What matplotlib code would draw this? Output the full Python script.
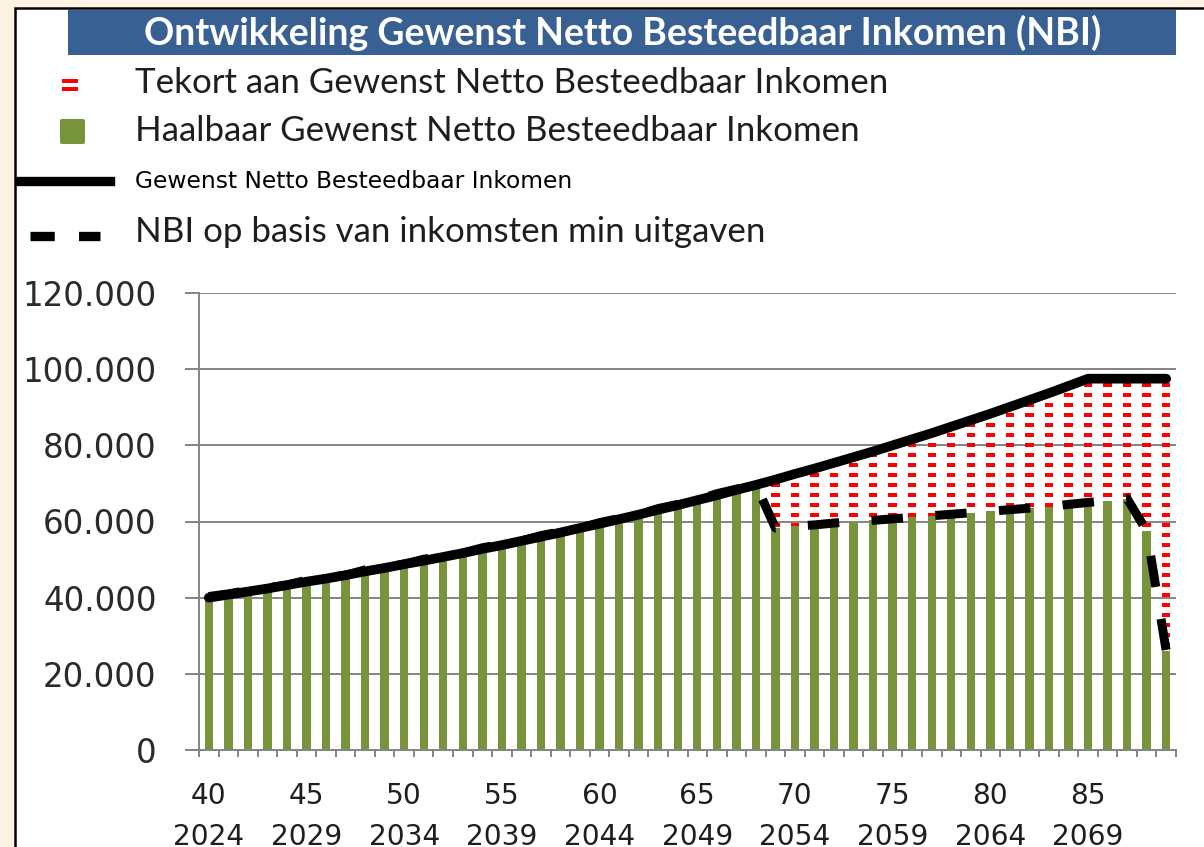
import numpy as np
import matplotlib.pyplot as plt
from matplotlib.patches import Rectangle, FancyBboxPatch
from matplotlib.lines import Line2D

# leeftijd en jaar per kolom
ages = list(range(40, 90))
years = list(range(2024, 2074))

# gewenst netto besteedbaar inkomen (zwarte lijn)
gewenst = [40000, 40800, 41600, 42400, 43300, 44200, 45000, 45900, 46900, 47800,
           48800, 49700, 50700, 51700, 52800, 53800, 54900, 56000, 57100, 58300,
           59400, 60600, 61800, 63100, 64300, 65600, 66900, 68300, 69600, 71000,
           72500, 73900, 75400, 76900, 78400, 80000, 81600, 83200, 84900, 86600,
           88300, 90100, 91900, 93700, 95600, 97500, 97500, 97500, 97500, 97500]

# NBI op basis van inkomsten min uitgaven (gestreepte lijn)
nbi = [40300, 41000, 41900, 42600, 43300, 44600, 45200, 45900, 47300, 48000,
       48800, 50100, 50900, 51700, 53100, 54000, 54900, 56300, 57300, 58300,
       59700, 60800, 61800, 63400, 64500, 65600, 67300, 68500, 69600, 58300,
       58800, 59100, 59600, 60000, 60300, 60700, 61100, 61500, 61900, 62300,
       62700, 63100, 63500, 63900, 64500, 65000, 65500, 66000, 57500, 26000]

haalbaar = np.minimum(gewenst, nbi)
tekort = np.array(gewenst) - haalbaar

W, H, DPI = 1204, 847, 120
plt.rcParams['hatch.linewidth'] = 2.4

fig = plt.figure(figsize=(W / DPI, H / DPI), dpi=DPI, facecolor='#fef3e2')


def fx(px):
    return px / W


def fy(py):
    return 1 - py / H


# wit paneel met zwarte rand
fig.patches.append(Rectangle((fx(15), -0.1), 1.2, fy(8) + 0.1, transform=fig.transFigure,
                             facecolor='white', edgecolor='black', linewidth=1.5, zorder=-2))

# titelbalk
fig.patches.append(Rectangle((fx(68), fy(55)), fx(1176) - fx(68), fy(10) - fy(55),
                             transform=fig.transFigure, facecolor='#386092',
                             edgecolor='none', zorder=-1))
fig.text(fx(623), fy(33), 'Ontwikkeling Gewenst Netto Besteedbaar Inkomen (NBI)',
         color='white', fontsize=22.5, fontweight='bold', family='Lato',
         ha='center', va='center')

# legenda
txt_col = '#1e1e1e'
fig.patches.append(Rectangle((fx(62), fy(83)), fx(16), 4 / H, transform=fig.transFigure,
                             facecolor='red', edgecolor='none'))
fig.patches.append(Rectangle((fx(62), fy(91)), fx(16), 4 / H, transform=fig.transFigure,
                             facecolor='red', edgecolor='none'))
fig.patches.append(FancyBboxPatch((fx(60), fy(144)), fx(25), 25 / H, transform=fig.transFigure,
                                  boxstyle='round,pad=0,rounding_size=0.002',
                                  facecolor='#77933c', edgecolor='none'))
fig.lines.append(Line2D([fx(20), fx(110)], [fy(181), fy(181)], transform=fig.transFigure,
                        color='black', linewidth=5.6))
fig.lines.append(Line2D([fx(30), fx(100)], [fy(236), fy(236)], transform=fig.transFigure,
                        color='black', linewidth=5.6, dashes=(2.6, 2.6), dash_capstyle='butt'))
fig.text(fx(135), fy(83), 'Tekort aan Gewenst Netto Besteedbaar Inkomen',
         color=txt_col, fontsize=20.9, family='Lato', va='center')
fig.text(fx(135), fy(131), 'Haalbaar Gewenst Netto Besteedbaar Inkomen',
         color=txt_col, fontsize=20.9, family='Lato', va='center')
fig.text(fx(135), fy(181), 'Gewenst Netto Besteedbaar Inkomen',
         color='black', fontsize=14, family='DejaVu Sans', va='center')
fig.text(fx(135), fy(232), 'NBI op basis van inkomsten min uitgaven',
         color=txt_col, fontsize=20.9, family='Lato', va='center')

# grafiek
ax = fig.add_axes([fx(199), fy(750), fx(1176) - fx(199), fy(293) - fy(750)])
ax.set_facecolor('white')
x = np.arange(len(ages))

ax.bar(x, haalbaar, width=0.43, color='#77933c', zorder=2)
ax.bar(x, tekort, bottom=haalbaar, width=0.43, facecolor='none', edgecolor='red',
       hatch='--', linewidth=0, zorder=2)
ax.plot(x, gewenst, color='black', linewidth=5.8, solid_capstyle='round',
        solid_joinstyle='round', zorder=3)
ax.plot(x, nbi, color='black', linewidth=5.4, dashes=(3.5, 3.6), dash_capstyle='butt',
        zorder=4)

ax.set_xlim(-0.5, len(ages) - 0.5)
ax.set_ylim(0, 120000)

grey = '#868686'
for s in ['top', 'right']:
    ax.spines[s].set_visible(False)
for s in ['left', 'bottom']:
    ax.spines[s].set_color(grey)
    ax.spines[s].set_linewidth(1.2)

yt = list(range(0, 120001, 20000))
ax.set_yticks(yt)
ax.set_yticklabels([f'{v:,}'.replace(',', '.') for v in yt])
ax.yaxis.grid(True, color=grey, linewidth=1.2)
ax.set_axisbelow(True)
ax.tick_params(axis='y', length=8.5, width=1.2, color=grey, pad=17,
               labelsize=19.5, labelcolor='#2a2a2a')

xt = list(range(0, len(ages), 5))
ax.set_xticks(xt)
ax.set_xticklabels([f'{ages[i]}\n{years[i]}' for i in xt], linespacing=1.6)
ax.set_xticks(np.arange(-0.5, len(ages), 1), minor=True)
ax.tick_params(axis='x', which='major', length=0, pad=19, labelsize=16.8,
               labelcolor='#1e1e1e')
ax.tick_params(axis='x', which='minor', length=4.2, width=1.2, color=grey)

fig.savefig('out.png', dpi=DPI, facecolor=fig.get_facecolor())
